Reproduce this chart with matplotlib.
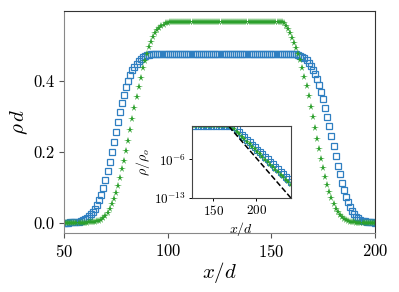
import matplotlib
matplotlib.use("Agg")
import matplotlib.pyplot as plt
import numpy as np

plt.rcParams['font.family'] = 'serif'
plt.rcParams['font.serif'] = ['cmr10']
plt.rcParams['mathtext.fontset'] = 'cm'
plt.rcParams['axes.formatter.use_mathtext'] = True

# main panel: density profiles, one point per unit of x/d
x_main = np.arange(50, 201)

rho_square = [
    0.001, 0.001, 0.001, 0.002, 0.002, 0.002, 0.003, 0.004, 0.006, 0.008,
    0.011, 0.015, 0.019, 0.025, 0.032, 0.040, 0.051, 0.064, 0.080, 0.100,
    0.122, 0.146, 0.172, 0.200, 0.228, 0.256, 0.284, 0.312, 0.337, 0.361,
    0.382, 0.401, 0.417, 0.430, 0.440, 0.449, 0.456, 0.462, 0.467, 0.470,
    0.472, 0.474, 0.475, 0.476, 0.476, 0.477,
    0.477, 0.477, 0.477, 0.477, 0.477, 0.477, 0.477, 0.477, 0.477, 0.477,
    0.477, 0.477, 0.477, 0.477, 0.477, 0.477, 0.477, 0.477, 0.477, 0.477,
    0.477, 0.477, 0.477, 0.477, 0.477, 0.477, 0.477, 0.477, 0.477, 0.477,
    0.477, 0.477, 0.477, 0.477, 0.477, 0.477, 0.477, 0.477, 0.477, 0.477,
    0.477, 0.477, 0.477, 0.477, 0.477, 0.477, 0.477, 0.477, 0.477, 0.477,
    0.477, 0.477, 0.477, 0.477, 0.477, 0.477, 0.477, 0.477, 0.477, 0.477,
    0.477, 0.477, 0.477, 0.477,
    0.476, 0.476, 0.475, 0.473, 0.471, 0.468, 0.464, 0.458, 0.451, 0.443,
    0.432, 0.420, 0.406, 0.390, 0.370, 0.348, 0.323, 0.300, 0.272, 0.244,
    0.216, 0.188, 0.162, 0.137, 0.114, 0.093, 0.074, 0.058, 0.045, 0.034,
    0.025, 0.018, 0.013, 0.009, 0.007, 0.005, 0.004, 0.003, 0.002, 0.002,
    0.001,
]

rho_star = [
    0.000, 0.000, 0.000, 0.000, 0.000, 0.001, 0.001, 0.001, 0.001, 0.001,
    0.001, 0.001, 0.002, 0.002, 0.003, 0.004, 0.005, 0.007, 0.010, 0.015,
    0.021, 0.029, 0.040, 0.054, 0.068, 0.086, 0.105, 0.128, 0.151, 0.175,
    0.204, 0.232, 0.262, 0.293, 0.323, 0.354, 0.383, 0.409, 0.436, 0.457,
    0.477, 0.495, 0.510, 0.523, 0.534, 0.544, 0.550, 0.555, 0.559, 0.562,
    0.564, 0.566,
    0.567, 0.567, 0.567, 0.567, 0.567, 0.567, 0.567, 0.567, 0.567, 0.567,
    0.567, 0.567, 0.567, 0.567, 0.567, 0.567, 0.567, 0.567, 0.567, 0.567,
    0.567, 0.567, 0.567, 0.567, 0.567, 0.567, 0.567, 0.567, 0.567, 0.567,
    0.567, 0.567, 0.567, 0.567, 0.567, 0.567, 0.567, 0.567, 0.567, 0.567,
    0.567, 0.567, 0.567, 0.567, 0.567, 0.567, 0.567, 0.567, 0.567, 0.567,
    0.567, 0.567, 0.567,
    0.566, 0.563, 0.556, 0.546, 0.534, 0.521, 0.507, 0.493, 0.477, 0.459,
    0.437, 0.412, 0.386, 0.358, 0.328, 0.298, 0.268, 0.237, 0.208, 0.179,
    0.154, 0.130, 0.108, 0.088, 0.070, 0.055, 0.041, 0.031, 0.022, 0.016,
    0.011, 0.008, 0.005, 0.004, 0.003, 0.002, 0.001, 0.001, 0.001, 0.001,
    0.001, 0.001, 0.000, 0.000, 0.000, 0.000,
]

# inset: tail on log scale (log10 of rho/rho_o), every 3 units
x_inset = np.arange(126, 241, 3)
log_square = [
    0, 0, 0, 0, 0, 0, 0, 0, 0, 0, 0, 0, 0, 0, 0, 0,
    -0.15, -0.55, -1.05, -1.5, -1.95, -2.4, -2.85, -3.3, -3.75,
    -4.2, -4.65, -5.1, -5.55, -6.0, -6.45, -6.9, -7.35, -7.8, -8.25,
    -8.7, -9.15, -9.6, -10.05,
]
log_star = [
    0, 0, 0, 0, 0, 0, 0, 0, 0, 0, 0, 0, 0, 0, 0,
    -0.1, -0.45, -0.95, -1.42, -1.88, -2.34, -2.8, -3.26, -3.72, -4.18,
    -4.64, -5.1, -5.56, -6.02, -6.48, -6.94, -7.4, -7.86, -8.32, -8.78,
    -9.24, -9.7, -10.16, -10.62,
]
guide_x = [168, 240]
guide_log = [0, -13]

blue = '#2f7fc1'
green = '#2ca02c'

fig = plt.figure(figsize=(3.99, 2.92), dpi=100)
ax = fig.add_axes([0.1604, 0.202, 0.7794, 0.7603])

ax.plot(x_main, rho_square, ls='none', marker='s', ms=4.2, mfc='none',
        mec=blue, mew=0.9)
ax.plot(x_main, rho_star, ls='none', marker='*', ms=5.4, color=green,
        mew=0)

ax.set_xlim(50, 200)
ax.set_ylim(-0.028, 0.597)
ax.set_xticks([50, 100, 150, 200])
ax.set_yticks([0.0, 0.2, 0.4])
ax.set_yticklabels(['0.0', '0.2', '0.4'])
ax.tick_params(labelsize=12, length=3.5, width=0.8, color='#555555')
ax.set_xlabel(r'$x/d$', fontsize=15, labelpad=0)
ax.set_ylabel(r'$\rho\, d$', fontsize=15, labelpad=2)
for side in ['left', 'bottom']:
    ax.spines[side].set_color('#888888')
for side in ['top', 'right']:
    ax.spines[side].set_color('#333333')

# inset
ins = fig.add_axes([0.481, 0.322, 0.248, 0.247])
ins.plot(x_inset, 10.0 ** np.array(log_square), ls='none', marker='s',
         ms=3.8, mfc='none', mec=blue, mew=0.8)
ins.plot(x_inset, 10.0 ** np.array(log_star), ls='none', marker='*',
         ms=4.2, color=green, mew=0)
ins.plot(guide_x, 10.0 ** np.array(guide_log), ls='--', color='black', lw=1.1)
ins.set_yscale('log')
ins.set_xlim(125, 240)
ins.set_ylim(1e-13, 10 ** 0.1)
ins.set_xticks([150, 200])
ins.set_yticks([1e-6, 1e-13])
ins.minorticks_off()
ins.tick_params(labelsize=9.5, length=2.5, width=0.7, pad=2)
ins.set_xlabel(r'$x/d$', fontsize=10, labelpad=1)
ins.set_ylabel(r'$\rho/\rho_o$', fontsize=10, labelpad=1)
for side in ins.spines.values():
    side.set_color('#444444')

fig.savefig('out.png', dpi=100)
